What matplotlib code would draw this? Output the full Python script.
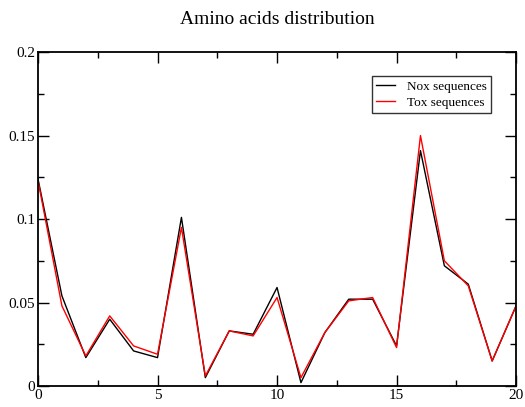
import matplotlib
matplotlib.use("Agg")
import matplotlib.pyplot as plt
from matplotlib.ticker import MultipleLocator

plt.rcParams["font.family"] = ["Liberation Serif", "DejaVu Serif"]

positions = list(range(21))
nox = [0.124, 0.054, 0.017, 0.040, 0.021, 0.017, 0.101, 0.005, 0.033, 0.031, 0.059,
       0.002, 0.032, 0.052, 0.052, 0.024, 0.141, 0.072, 0.061, 0.015, 0.048]
tox = [0.123, 0.048, 0.018, 0.042, 0.024, 0.019, 0.095, 0.006, 0.033, 0.030, 0.053,
       0.005, 0.032, 0.051, 0.053, 0.023, 0.150, 0.075, 0.060, 0.015, 0.048]
series_labels = ["Nox sequences", "Tox sequences"]

fig = plt.figure(figsize=(5.25, 4.07), dpi=100)
ax = fig.add_axes([0.0724, 0.0516, 0.9106, 0.8204])

ax.plot(positions, nox, color="black", lw=1.0, label=series_labels[0])
ax.plot(positions, tox, color="red", lw=1.0, label=series_labels[1])

ax.set_xlim(0, 20)
ax.set_ylim(0, 0.2)
ax.xaxis.set_major_locator(MultipleLocator(5))
ax.xaxis.set_minor_locator(MultipleLocator(2.5))
ax.yaxis.set_major_locator(MultipleLocator(0.05))
ax.yaxis.set_minor_locator(MultipleLocator(0.025))
ax.xaxis.set_major_formatter(plt.FuncFormatter(lambda v, p: f"{v:g}"))
ax.yaxis.set_major_formatter(plt.FuncFormatter(lambda v, p: f"{v:g}"))
ax.tick_params(which="both", direction="in", top=True, right=True, labelsize=11, width=1.0)
ax.tick_params(which="major", length=8, pad=2)
ax.tick_params(which="minor", length=4)
for s in ax.spines.values():
    s.set_linewidth(1.3)

ax.set_title("Amino acids distribution", fontsize=14, pad=20)

leg = ax.legend(loc="upper right", bbox_to_anchor=(0.948, 0.928), fontsize=9.5,
                frameon=True, fancybox=False, edgecolor="black", handlelength=1.4,
                borderpad=0.35, labelspacing=0.25, handletextpad=0.9, borderaxespad=0)
leg.get_frame().set_linewidth(1.0)

plt.savefig("out.png", dpi=100)
plt.close()
